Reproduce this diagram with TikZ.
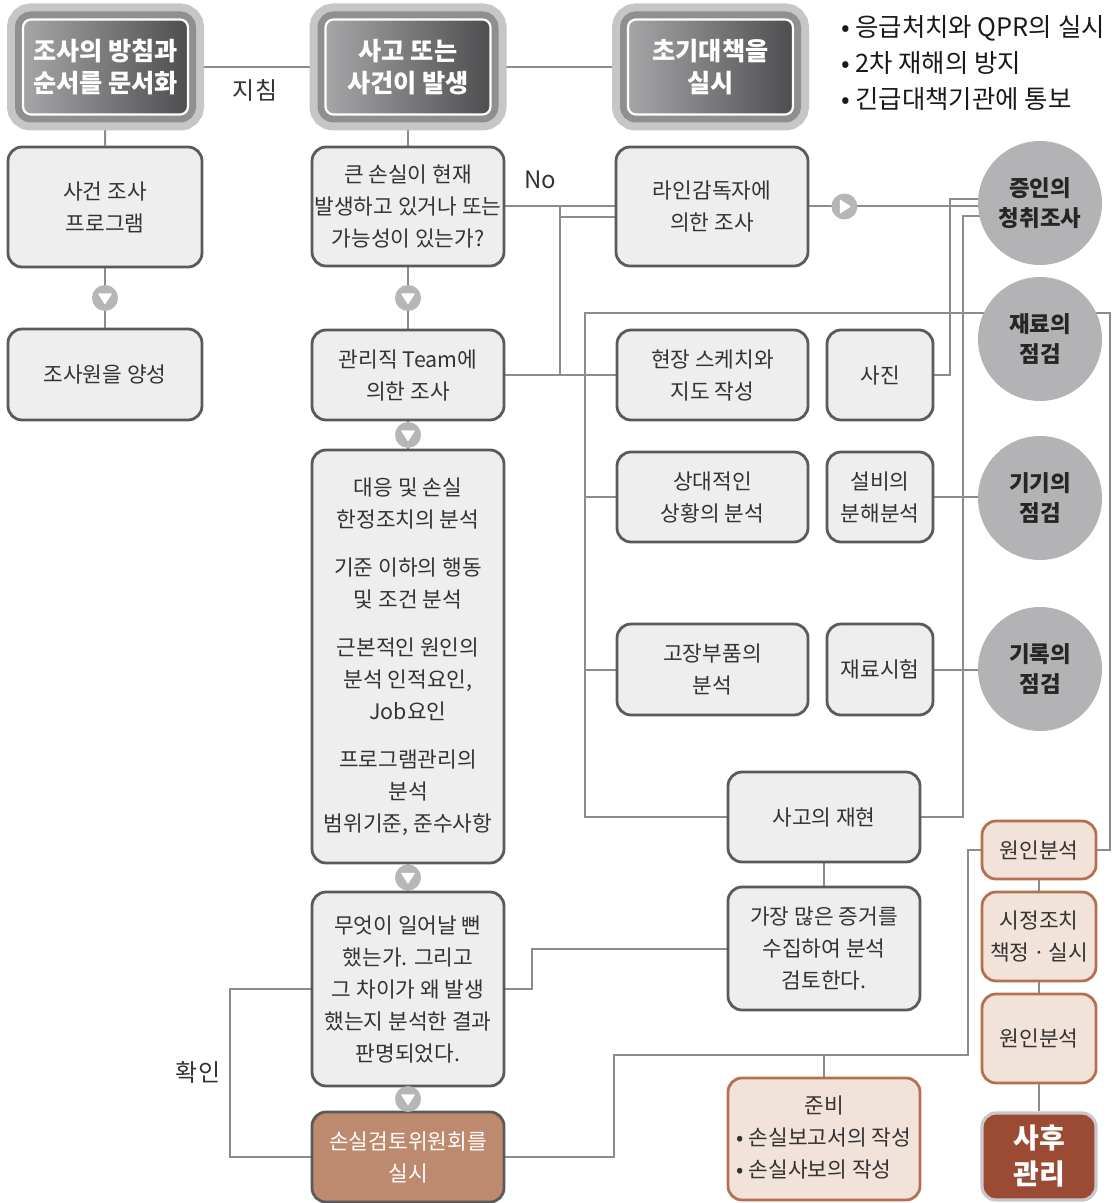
\documentclass[tikz,border=0pt]{standalone}
\usepackage{fontspec}
\setmainfont{Noto Sans CJK KR}
\usetikzlibrary{backgrounds,calc}

\definecolor{boxfill}{HTML}{EEEEEE}
\definecolor{boxline}{HTML}{5A5A5A}
\definecolor{conline}{HTML}{8C8C8E}
\definecolor{txt}{HTML}{333333}
\definecolor{cirfill}{HTML}{B3B3B5}
\definecolor{arrfill}{HTML}{B6B6B8}
\definecolor{beigefill}{HTML}{F2E3DA}
\definecolor{beigeline}{HTML}{B5714F}
\definecolor{comfill}{HTML}{BE8A6F}
\definecolor{postfill}{HTML}{9B4B34}
\definecolor{postline}{HTML}{C8C8CA}
\definecolor{ringgray}{HTML}{C6C6C8}
\definecolor{bandgray}{HTML}{8F8F91}
\definecolor{shadeL}{HTML}{A6A6A8}
\definecolor{shadeR}{HTML}{4E4E50}

\begin{document}
\begin{tikzpicture}[x=0.5pt, y=-0.5pt,
	gbox/.style={draw=boxline, fill=boxfill, line width=1.4pt, rounded corners=7pt, align=center, inner sep=0pt, text=txt, font=\fontsize{10.7}{16}\selectfont},
	bbox/.style={gbox, draw=beigeline, fill=beigefill},
	topbox/.style={minimum width=82.5pt, minimum height=47.5pt, rounded corners=4pt, left color=shadeL, right color=shadeR, draw=white, line width=1.1pt,
		preaction={draw=ringgray, line width=16pt}, preaction={draw=bandgray, line width=8pt},
		align=center, inner sep=0pt, text=white, font=\fontsize{12.6}{16}\selectfont\bfseries},
	cir/.style={circle, fill=cirfill, minimum size=62pt, inner sep=0pt, align=center, text=black!85, font=\fontsize{11.2}{15}\selectfont\bfseries},
	arrd/.style={circle, fill=arrfill, minimum size=13pt, inner sep=0pt,
		path picture={\fill[white, rounded corners=0.4pt] ([shift={(-3.6pt,2.3pt)}]path picture bounding box.center) -- ([shift={(3.6pt,2.3pt)}]path picture bounding box.center) -- ([shift={(0pt,-3.3pt)}]path picture bounding box.center) -- cycle;}},
	arrr/.style={circle, fill=arrfill, minimum size=13pt, inner sep=0pt,
		path picture={\fill[white, rounded corners=0.4pt] ([shift={(-2.3pt,3.6pt)}]path picture bounding box.center) -- ([shift={(-2.3pt,-3.6pt)}]path picture bounding box.center) -- ([shift={(3.3pt,0pt)}]path picture bounding box.center) -- cycle;}},
	lbl/.style={text=txt, font=\fontsize{12}{14}\selectfont},
	con/.style={draw=conline, line width=1pt}]

	\useasboundingbox (0,0) rectangle (1114,1203);

	% top row
	\node[topbox] (pol) at (105.5,67) {조사의 방침과\\순서를 문서화};
	\node[topbox] (occ) at (408,67) {사고 또는\\사건이 발생};
	\node[topbox] (ini) at (710.5,67) {초기대책을\\실시};
	\node[anchor=west, align=left, text=black!90, font=\fontsize{12.7}{18}\selectfont] (notes) at (834,63) {• 응급처치와 QPR의 실시\\• 2차 재해의 방지\\• 긴급대책기관에 통보};
	\node[lbl] (lblguide) at (255,90) {지침};

	% left and middle columns
	\node[gbox, minimum width=97pt, minimum height=60pt] (prog) at (105,207) {사건 조사\\프로그램};
	\node[gbox, minimum width=97pt, minimum height=45.5pt] (train) at (105,374.5) {조사원을 양성};
	\node[gbox, minimum width=96pt, minimum height=59.5pt] (dec) at (408,206.5) {큰 손실이 현재\\발생하고 있거나 또는\\가능성이 있는가?};
	\node[gbox, minimum width=96pt, minimum height=45pt] (mgr) at (408,375) {관리직 Team에\\의한 조사};
	\node[gbox, minimum width=96pt, minimum height=206.5pt] (anal) at (408,656.5) {대응 및 손실\\한정조치의 분석\\[8pt]기준 이하의 행동\\및 조건 분석\\[8pt]근본적인 원인의\\분석 인적요인,\\Job요인\\[8pt]프로그램관리의\\분석\\범위기준, 준수사항};
	\node[gbox, minimum width=96pt, minimum height=97pt] (what) at (408,989) {무엇이 일어날 뻔\\했는가. 그리고\\그 차이가 왜 발생\\했는지 분석한 결과\\판명되었다.};
	\node[gbox, fill=comfill, text=white, minimum width=96pt, minimum height=45pt] (com) at (408,1157) {손실검토위원회를\\실시};
	\node[lbl] (lblno) at (540,180) {No};
	\node[lbl] (lblcheck) at (198,1072) {확인};

	% third and fourth columns
	\node[gbox, minimum width=96pt, minimum height=59.5pt] (lineinv) at (712,206.5) {라인감독자에\\의한 조사};
	\node[gbox, minimum width=95.5pt, minimum height=45pt] (site) at (712.5,375) {현장 스케치와\\지도 작성};
	\node[gbox, minimum width=53pt, minimum height=45pt] (photo) at (880,375) {사진};
	\node[gbox, minimum width=95.5pt, minimum height=45pt] (rel) at (712.5,497) {상대적인\\상황의 분석};
	\node[gbox, minimum width=53pt, minimum height=45pt] (equip) at (880,497) {설비의\\분해분석};
	\node[gbox, minimum width=95.5pt, minimum height=45.5pt] (part) at (712.5,669.5) {고장부품의\\분석};
	\node[gbox, minimum width=53pt, minimum height=45.5pt] (mtest) at (880,669.5) {재료시험};
	\node[gbox, minimum width=96pt, minimum height=45pt] (recon) at (824,817) {사고의 재현};
	\node[gbox, minimum width=96pt, minimum height=61.5pt] (evid) at (824,948.5) {가장 많은 증거를\\수집하여 분석\\검토한다.};
	\node[bbox, minimum width=96pt, minimum height=61pt] (prep) at (824,1139) {\begin{tabular}{@{}l@{}}\multicolumn{1}{@{}c@{}}{준비}\\• 손실보고서의 작성\\• 손실사보의 작성\end{tabular}};

	% right column
	\node[cir] (wit) at (1040,203) {증인의\\청취조사};
	\node[cir] (mat) at (1040,339) {재료의\\점검};
	\node[cir] (gear) at (1040,498) {기기의\\점검};
	\node[cir] (rec) at (1040,669) {기록의\\점검};
	\node[bbox, minimum width=57pt, minimum height=29pt] (cause1) at (1039,850) {원인분석};
	\node[bbox, minimum width=57pt, minimum height=44.5pt] (fix) at (1039,936.5) {시정조치\\책정\,·\,실시};
	\node[bbox, minimum width=57pt, minimum height=44.5pt] (cause2) at (1039,1038.5) {원인분석};
	\node[gbox, draw=postline, fill=postfill, line width=1.6pt, text=white, minimum width=57pt, minimum height=43.5pt, font=\fontsize{14}{18}\selectfont\bfseries] (post) at (1039,1156.5) {사후\\관리};

	% flow marks
	\node[arrd] (ar1) at ($(prog.south)!0.5!(train.north)$) {};
	\node[arrd] (ar2) at ($(dec.south)!0.5!(mgr.north)$) {};
	\node[arrd] (ar3) at ($(mgr.south)!0.5!(anal.north)$) {};
	\node[arrd] (ar4) at ($(anal.south)!0.5!(what.north)$) {};
	\node[arrd] (ar5) at ($(what.south)!0.5!(com.north)$) {};
	\node[arrr] (ar6) at ($(lineinv.east)+(35,0)$) {};

	\coordinate (jn1) at (950,199);
	\coordinate (jn2) at (963,216);
	\coordinate (jn3) at (585,313);
	\coordinate (jn4) at (1110,313);
	\coordinate (jn5) at (560,217);
	\coordinate (jn6) at (532,956);
	\coordinate (jn7) at (230,989);
	\coordinate (jn8) at (614,1055);
	\coordinate (jn9) at (968,1055);

	\begin{scope}[on background layer]
		\draw[con] (pol.east) -- (occ.west);
		\draw[con] (occ.east) -- (ini.west);
		\draw[con] (pol.south) -- (prog.north);
		\draw[con] (occ.south) -- (dec.north);
		\draw[con] (prog.south) -- (train.north);
		\draw[con] (dec.south) -- (mgr.north);
		\draw[con] (mgr.south) -- (anal.north);
		\draw[con] (anal.south) -- (what.north);
		\draw[con] (what.south) -- (com.north);

		\draw[con] (dec.east) -- (lineinv.west);
		\draw[con] (mgr.east) -- (site.west);
		\draw[con] (mgr.east -| jn5) -- (jn5 |- dec.east);
		\draw[con] (jn5) -- (jn5 -| lineinv.west);
		\draw[con] (lineinv.east) -- (lineinv.east -| wit.center);
		\draw[con] (photo.east) -| (jn1) -- (jn1 -| wit.center);
		\draw[con] (jn2 -| wit.center) -- (jn2) |- (recon.east);
		\draw[con] (equip.east) -- (equip.east -| gear.center);
		\draw[con] (mtest.east) -- (mtest.east -| rec.center);

		\draw[con] (recon.west) -| (jn3) -- (jn4) |- (cause1.east);
		\draw[con] (rel.west) -- (rel.west -| jn3);
		\draw[con] (part.west) -- (part.west -| jn3);
		\draw[con] (recon.south) -- (evid.north);

		\draw[con] (what.east) -- (what.east -| jn6) |- (evid.west);
		\draw[con] (what.west) -- (what.west -| jn7) |- (com.west);
		\draw[con] (com.east) -| (jn8) -- (jn9) |- (cause1.west);
		\draw[con] (prep.north) -- (prep.north |- jn8);

		\draw[con] (cause1.south) -- (fix.north);
		\draw[con] (fix.south) -- (cause2.north);
		\draw[con] (cause2.south) -- (post.north);
	\end{scope}

\end{tikzpicture}
\end{document}
